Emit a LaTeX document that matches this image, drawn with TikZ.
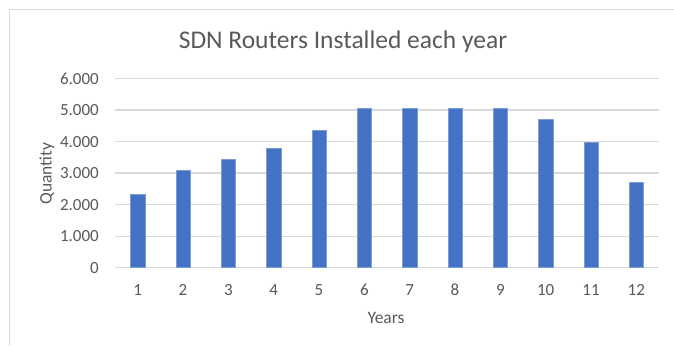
\documentclass[tikz,border=0pt]{standalone}
\usepackage{fontspec}
\setmainfont{Carlito}
\definecolor{txt}{HTML}{595959}
\definecolor{grid}{HTML}{D9D9D9}
\definecolor{bar}{HTML}{4472C4}
\begin{document}
\begin{tikzpicture}[x=1pt,y=-1pt,
  ticklab/.style={text=txt,font=\fontsize{17}{20}\selectfont,inner sep=0pt},
  axtitle/.style={text=txt,font=\fontsize{17.5}{21}\selectfont,inner sep=0pt},
  gridline/.style={draw=grid,line width=1.3pt},
  barbox/.style={fill=bar,draw=bar!70!white,line width=0.4pt}]
\useasboundingbox (0,0) rectangle (674,346);
\fill[white] (0,0) rectangle (674,346);
% frame
\draw[draw=grid,line width=1.3pt] (9.5,346) -- (9.5,9.3) -- (674,9.3);
% title
\node[text=txt,font=\fontsize{25.5}{30}\selectfont,inner sep=0pt,anchor=base] (title) at (343,48.3) {SDN Routers Installed each year};
% gridlines and y labels
\foreach \v/\lab [count=\k from 0] in {0/0,1/1.000,2/2.000,3/3.000,4/4.000,5/5.000,6/6.000}{
  \coordinate (gl\k) at (115,267.7-31.53*\v);
  \coordinate (gr\k) at (659,267.7-31.53*\v);
  \draw[gridline] (gl\k) -- (gr\k);
  \node[ticklab,anchor=east] (yl\k) at (99,267.7-31.53*\v) {\lab};
}
% bars
\foreach \v [count=\i] in {2.347,3.09,3.44,3.79,4.36,5.065,5.065,5.065,5.065,4.71,3.98,2.71}{
  \pgfmathsetmacro{\cx}{115+45.333*(\i-0.5)}
  \draw[barbox] (\cx-7.3,267.1) rectangle (\cx+7.3,267.7-31.53*\v);
  \node[ticklab,anchor=base] (xl\i) at (\cx,295.3) {\i};
}
% axis titles
\node[axtitle,anchor=base] (xt) at (386,323.3) {Years};
\node[axtitle,anchor=base,rotate=90] (yt) at (51.5,173.5) {Quantity};
\end{tikzpicture}
\end{document}
